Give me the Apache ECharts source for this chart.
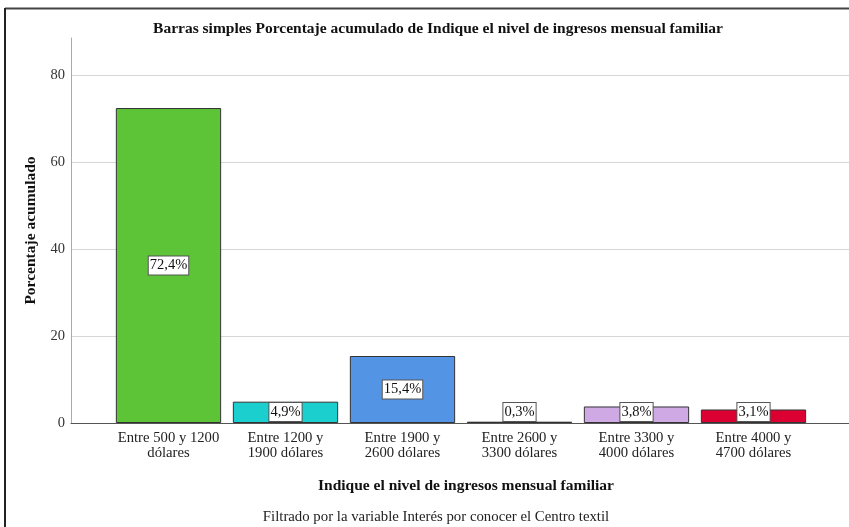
<!DOCTYPE html>
<html><head><meta charset="utf-8">
<script src="https://cdn.jsdelivr.net/npm/echarts@6/dist/echarts.min.js"></script>
<style>html,body{margin:0;padding:0;background:#fff}#c{width:849px;height:527px}</style>
</head><body><div id="c"></div>
<script>
const categories = ['Entre 500 y 1200\ndólares','Entre 1200 y\n1900 dólares','Entre 1900 y\n2600 dólares','Entre 2600 y\n3300 dólares','Entre 3300 y\n4000 dólares','Entre 4000 y\n4700 dólares'];
const values = [72.4, 4.9, 15.4, 0.3, 3.8, 3.1];
const colors = ['#5dc337','#1ccfcf','#5494e4','#2f6a2c','#cfa9e4','#dc0032'];
const yTicks = [0, 20, 40, 60, 80];
const title = 'Barras simples Porcentaje acumulado de Indique el nivel de ingresos mensual familiar';
const yName = 'Porcentaje acumulado';
const xName = 'Indique el nivel de ingresos mensual familiar';
const footer = 'Filtrado por la variable Interés por conocer el Centro textil';

const F = 'Liberation Serif, Times New Roman, serif';
const chart = echarts.init(document.getElementById('c'));
const gTop = 38, gBottom = 104, ymax = 88.5;
chart.setOption({
  animation: false,
  backgroundColor: '#fff',
  title: [
    {text: title, left: 433, textAlign: 'center', top: 16, textStyle: {fontFamily: F, fontSize: 15.5, fontWeight: 'bold', color: '#111'}},
    {text: xName, left: 461, textAlign: 'center', top: 473, textStyle: {fontFamily: F, fontSize: 15.5, fontWeight: 'bold', color: '#111'}},
    {text: footer, left: 431, textAlign: 'center', top: 505, textStyle: {fontFamily: F, fontSize: 14.8, fontWeight: 'normal', color: '#222'}}
  ],
  graphic: [
    {type: 'line', shape: {x1: 5, y1: 8.5, x2: 849, y2: 8.5}, style: {stroke: '#444', lineWidth: 2}},
    {type: 'line', shape: {x1: 5, y1: 8, x2: 5, y2: 527}, style: {stroke: '#222', lineWidth: 2}}
  ],
  grid: [
    {left: 71, right: 0, top: gTop, bottom: gBottom},
    {left: 110, right: 37, top: gTop, bottom: gBottom}
  ],
  xAxis: [
    {gridIndex: 0, type: 'value', min: 0, max: 1, axisLine: {show: true, onZero: false, lineStyle: {color: '#555', width: 1}}, axisTick: {show: false}, axisLabel: {show: false}, splitLine: {show: false}},
    {gridIndex: 1, type: 'category', data: categories, axisLine: {show: false}, axisTick: {show: false},
     axisLabel: {fontFamily: F, fontSize: 14.7, color: '#222', lineHeight: 15, margin: 8, interval: 0}}
  ],
  yAxis: [
    {gridIndex: 0, type: 'value', min: 0, max: ymax, interval: 20,
     name: yName, nameLocation: 'middle', nameGap: 32, nameTextStyle: {fontFamily: F, fontSize: 15.5, fontWeight: 'bold', color: '#111'},
     axisLine: {show: true, lineStyle: {color: '#aaa'}}, axisTick: {show: false},
     axisLabel: {fontFamily: F, fontSize: 14.5, color: '#333', margin: 6, customValues: yTicks, formatter: v => String(v)},
     splitLine: {show: true, showMaxLine: false, lineStyle: {color: '#d6d6d6', width: 1}}},
    {gridIndex: 1, type: 'value', min: 0, max: ymax, show: false, splitLine: {show: false}}
  ],
  series: [{
    type: 'bar', xAxisIndex: 1, yAxisIndex: 1, barCategoryGap: '10%',
    data: values.map((v, i) => ({
      value: v,
      itemStyle: {color: colors[i], borderColor: '#333', borderWidth: 1},
      label: {position: v > 10 ? 'inside' : 'insideBottom', distance: 2}
    })),
    label: {show: true, formatter: p => String(p.value).replace('.', ',') + '%',
      fontFamily: F, fontSize: 14.5, color: '#111', backgroundColor: '#fff', borderColor: '#555', borderWidth: 1,
      padding: [2, 1, 1, 1]}
  }]
});
</script></body></html>
